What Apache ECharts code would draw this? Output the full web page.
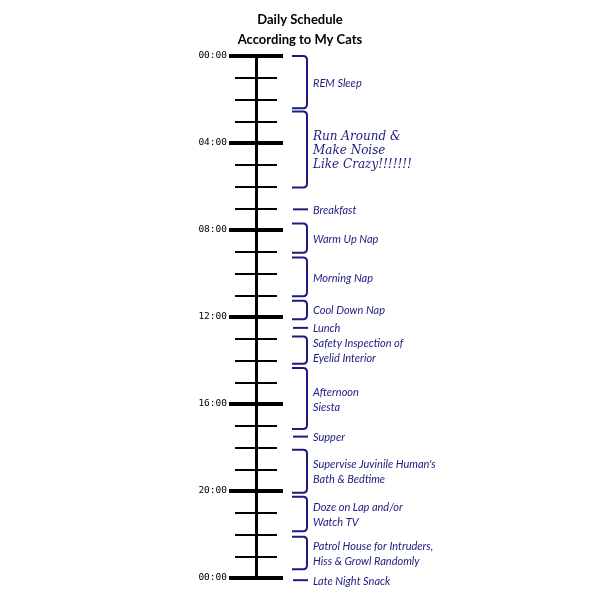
<!DOCTYPE html>
<html>
<head>
<meta charset="utf-8">
<script src="https://cdn.jsdelivr.net/npm/echarts@6/dist/echarts.min.js"></script>
<style>html,body{margin:0;padding:0;background:#fff}#c{width:600px;height:600px}</style>
</head>
<body>
<div id="c"></div>
<script>
// Data (hours of the day)
const eventNames = [
  "REM Sleep",
  "Run Around &\nMake Noise\nLike Crazy!!!!!!!",
  "Breakfast",
  "Warm Up Nap",
  "Morning Nap",
  "Cool Down Nap",
  "Lunch",
  "Safety Inspection of\nEyelid Interior",
  "Afternoon\nSiesta",
  "Supper",
  "Supervise Juvinile Human's\nBath & Bedtime",
  "Doze on Lap and/or\nWatch TV",
  "Patrol House for Intruders,\nHiss & Growl Randomly",
  "Late Night Snack"
];
const eventStart = [0, 2.55, 7.05, 7.7, 9.27, 11.25, 12.5, 12.9, 14.35, 17.5, 18.1, 20.27, 22.1, 24.1];
const eventEnd   = [2.4, 6.05, 7.05, 9.05, 11.05, 12.1, 12.5, 14.15, 17.15, 17.5, 20.08, 21.85, 23.6, 24.1];
const hourTickLabels = ["00:00","04:00","08:00","12:00","16:00","20:00","00:00"];

const NAVY = '#1c1c7e';
const chart = echarts.init(document.getElementById('c'));

const seriesData = eventNames.map((n, i) => [i, eventStart[i], eventEnd[i]]);

function renderItem(params, api) {
  const i = api.value(0);
  const s = api.value(1), e = api.value(2);
  const name = eventNames[i];
  const big = name.indexOf('Crazy') >= 0;
  const pTop = api.coord([36, s]);
  const pBot = api.coord([51, e]);
  const x0 = pTop[0], x1 = pBot[0];
  const y0 = pTop[1], y1 = pBot[1];
  const children = [];
  if (s === e) {
    children.push({type: 'line', shape: {x1: x0 + 1, y1: y0, x2: x1 + 1, y2: y0},
      style: {stroke: NAVY, lineWidth: 2}});
  } else {
    const r = 4;
    const pd = `M${x0},${y0} L${x1 - r},${y0} Q${x1},${y0} ${x1},${y0 + r} L${x1},${y1 - r} Q${x1},${y1} ${x1 - r},${y1} L${x0},${y1}`;
    children.push({type: 'path', shape: {pathData: pd},
      style: {stroke: NAVY, lineWidth: 2, fill: null}});
  }
  children.push({type: 'text', style: {
    text: name, x: x1 + 6, y: (y0 + y1) / 2 + 1,
    verticalAlign: 'middle', align: 'left',
    fill: NAVY,
    font: big ? 'italic 12px "DejaVu Serif"' : 'italic 11px Lato',
    lineHeight: big ? 14 : 15
  }});
  return {type: 'group', children};
}

const tickCommon = {
  type: 'value', inverse: true, min: 0, max: 24, interval: 4, position: 'left',
  splitLine: {show: false}
};

chart.setOption({
  animation: false,
  backgroundColor: '#fff',
  title: {
    text: 'Daily Schedule\nAccording to My Cats',
    left: 'center', top: 5,
    textStyle: {fontSize: 13, fontWeight: 'bold', fontFamily: 'Lato', color: '#000', lineHeight: 20}
  },
  grid: {left: 256, right: 0, top: 56, bottom: 22, containLabel: false},
  xAxis: {type: 'value', min: 0, max: 344, show: false},
  yAxis: [
    Object.assign({}, tickCommon, {
      axisLine: {show: true, lineStyle: {color: '#000', width: 3}},
      axisTick: {show: true, inside: false, length: 27, lineStyle: {color: '#000', width: 4}},
      minorTick: {show: true, splitNumber: 4, length: 21, lineStyle: {color: '#000', width: 2}},
      axisLabel: {
        show: true, margin: 29, color: '#000', fontFamily: 'DejaVu Sans Mono', fontSize: 9.5,
        formatter: (v) => hourTickLabels[Math.round(v / 4)]
      }
    }),
    Object.assign({}, tickCommon, {
      axisLine: {show: false},
      axisTick: {show: true, inside: true, length: 27, lineStyle: {color: '#000', width: 4}},
      minorTick: {show: true, splitNumber: 4, length: 21, lineStyle: {color: '#000', width: 2}},
      axisLabel: {show: false}
    })
  ],
  series: [{
    type: 'custom',
    renderItem: renderItem,
    clip: false,
    encode: {x: -1, y: [1, 2]},
    data: seriesData
  }]
});
</script>
</body>
</html>
